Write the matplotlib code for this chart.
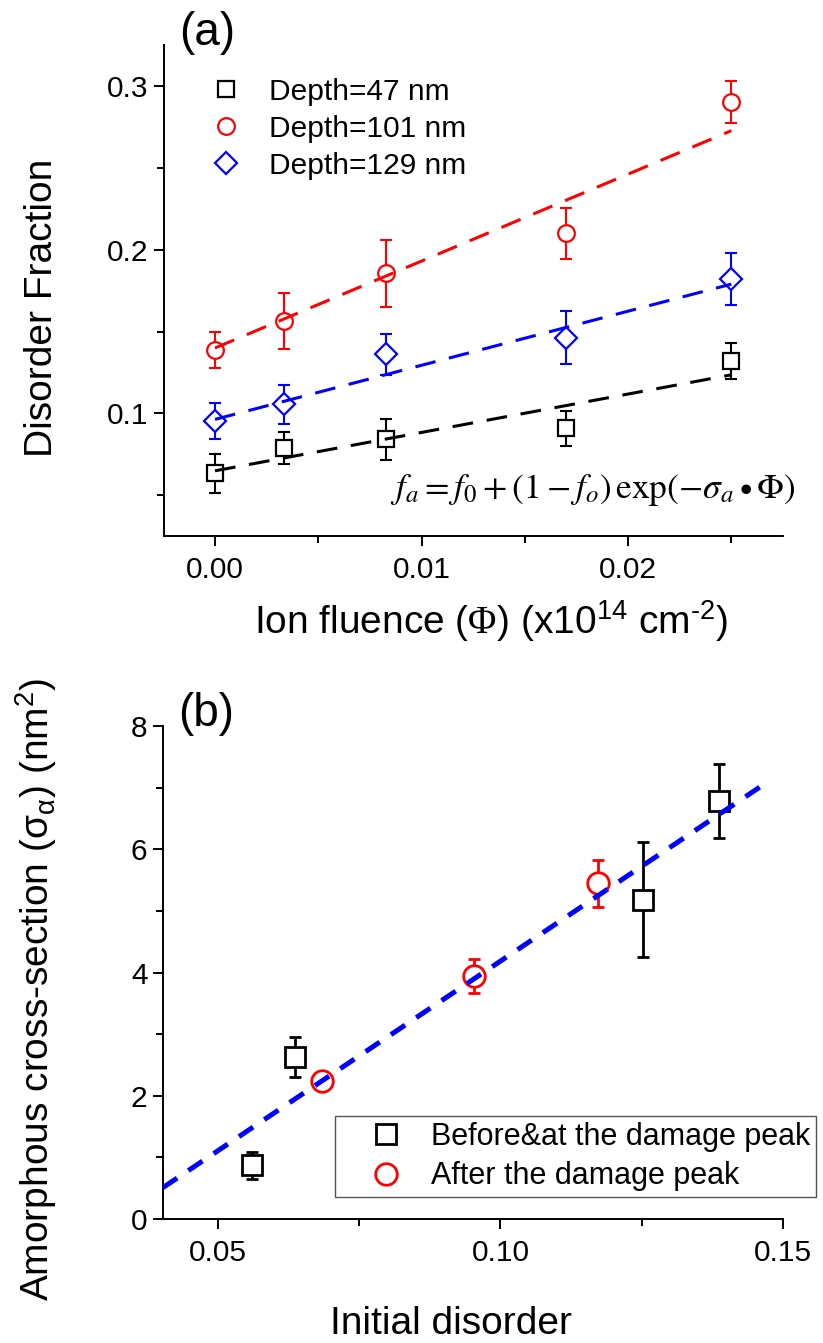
import matplotlib
matplotlib.use("Agg")
import matplotlib.pyplot as plt
from matplotlib.ticker import MultipleLocator, FormatStrFormatter

plt.rcParams["font.family"] = ["Liberation Sans", "DejaVu Sans"]
plt.rcParams["mathtext.fontset"] = "custom"
plt.rcParams["mathtext.rm"] = "Liberation Sans"
plt.rcParams["mathtext.it"] = "Liberation Sans:italic"
plt.rcParams["mathtext.cal"] = "Liberation Serif"

# (a) disorder fraction vs fluence at three depths
fluence = [0.0, 0.00333, 0.0083, 0.0170, 0.0250]
df_47 = [0.0634, 0.0789, 0.0843, 0.0909, 0.132]
err_47 = [0.012, 0.010, 0.0125, 0.0105, 0.011]
df_101 = [0.139, 0.1565, 0.1856, 0.210, 0.290]
err_101 = [0.011, 0.017, 0.0205, 0.0155, 0.0128]
df_129 = [0.0956, 0.1055, 0.1361, 0.1464, 0.182]
err_129 = [0.011, 0.012, 0.0127, 0.016, 0.016]

# fitted curves, end points
fit_x = [0.0, 0.025]
fit_47 = [0.065, 0.1236]
fit_101 = [0.140, 0.2727]
fit_129 = [0.0964, 0.179]

# (b) cross-section vs initial disorder
before_x = [0.0560, 0.0636, 0.1252, 0.1387]
before_y = [0.87, 2.63, 5.18, 6.79]
before_err = [0.22, 0.32, 0.93, 0.60]
after_x = [0.0684, 0.0953, 0.1173]
after_y = [2.24, 3.94, 5.45]
after_err = [0.08, 0.28, 0.38]
lin_x = [0.0403, 0.1477]
lin_y = [0.51, 7.12]

W, H = 823, 1343
fig = plt.figure(figsize=(W / 100, H / 100), dpi=100)
ax1 = fig.add_axes([164 / W, (H - 536) / H, 619 / W, 491 / H])
ax2 = fig.add_axes([163 / W, (H - 1219) / H, 620 / W, 493 / H])

TICK_FS = 21.5
LABEL_FS = 28


def style_axes(ax):
    for side in ("top", "right"):
        ax.spines[side].set_visible(False)
    for side in ("left", "bottom"):
        ax.spines[side].set_linewidth(1.4)
    ax.tick_params(which="major", direction="out", length=7.2, width=1.4,
                   labelsize=TICK_FS)
    ax.tick_params(which="minor", direction="out", length=4.8, width=1.4)
    ax.tick_params(axis="x", which="major", pad=7)
    ax.tick_params(axis="y", which="major", pad=4)


series = [
    (df_47, err_47, fit_47, "black", "s", 11, "Depth=47 nm"),
    (df_101, err_101, fit_101, "red", "o", 12, "Depth=101 nm"),
    (df_129, err_129, fit_129, "blue", "D", 11.5, "Depth=129 nm"),
]
for y, e, fit, c, m, ms, lab in series:
    ax1.errorbar(fluence, y, yerr=e, fmt="none", ecolor=c, elinewidth=1.5,
                 capsize=4, capthick=1.5, zorder=2)
    ax1.plot(fluence, y, m, ms=ms, mfc="white", mec=c, mew=1.6,
             ls="none", label=lab, zorder=3)
    ax1.plot(fit_x, fit, color=c, lw=2.2, dashes=(6.8, 4.5), zorder=4)

style_axes(ax1)
ax1.set_xlim(-0.00247, 0.0275)
ax1.set_ylim(0.0252, 0.325)
ax1.xaxis.set_major_locator(MultipleLocator(0.01))
ax1.xaxis.set_minor_locator(MultipleLocator(0.005))
ax1.xaxis.set_major_formatter(FormatStrFormatter("%.2f"))
ax1.yaxis.set_major_locator(MultipleLocator(0.1))
ax1.yaxis.set_minor_locator(MultipleLocator(0.05))
ax1.yaxis.set_major_formatter(FormatStrFormatter("%.1f"))

ax1.set_xlabel(r"Ion fluence ($\mathcal{\Phi}$) (x10$^{14}$ cm$^{\text{-2}}$)",
               fontsize=LABEL_FS)
ax1.set_ylabel("Disorder Fraction", fontsize=LABEL_FS)
ax1.xaxis.set_label_coords(0.528, -0.126)
ax1.yaxis.set_label_coords(-0.168, 0.464)

ax1.legend(loc="upper left", bbox_to_anchor=(0.071, 0.933), frameon=False,
           fontsize=TICK_FS, handlelength=1.2, handletextpad=0.85,
           labelspacing=0.3, borderpad=0, borderaxespad=0)

ax1.text(1.021, 0.094, r"$f_a = f_0 + (1 - f_o)\,\exp(-\sigma_a \bullet \Phi)$",
         transform=ax1.transAxes, ha="right", va="center", fontsize=25.5,
         math_fontfamily="stix")

# (b)
ax2.errorbar(before_x, before_y, yerr=before_err, fmt="none", ecolor="black",
             elinewidth=2, capsize=4.5, capthick=2, zorder=2)
ax2.errorbar(after_x, after_y, yerr=after_err, fmt="none", ecolor="red",
             elinewidth=2, capsize=4.5, capthick=2, zorder=2)
ax2.plot(before_x, before_y, "s", ms=14.5, mfc="white", mec="black", mew=2,
         ls="none", label="Before&at the damage peak", zorder=3)
ax2.plot(after_x, after_y, "o", ms=15.5, mfc="white", mec="red", mew=2,
         ls="none", label="After the damage peak", zorder=3)
ax2.plot(lin_x, lin_y, color="blue", lw=3.6, dashes=(3.4, 2.7), zorder=4)

style_axes(ax2)
ax2.set_xlim(0.0403, 0.15)
ax2.set_ylim(0, 8)
ax2.xaxis.set_major_locator(MultipleLocator(0.05))
ax2.xaxis.set_minor_locator(MultipleLocator(0.025))
ax2.xaxis.set_major_formatter(FormatStrFormatter("%.2f"))
ax2.yaxis.set_major_locator(MultipleLocator(2))
ax2.yaxis.set_minor_locator(MultipleLocator(1))

ax2.set_xlabel("Initial disorder", fontsize=LABEL_FS)
ax2.set_ylabel(r"Amorphous cross-section ($\mathrm{\sigma_{\alpha}}$) (nm$^{2}$)",
               fontsize=LABEL_FS)
ax2.xaxis.set_label_coords(0.465, -0.176)
ax2.yaxis.set_label_coords(-0.168, 0.465)

leg = ax2.legend(loc="upper left", bbox_to_anchor=(0.277, 0.209),
                 fontsize=22, handlelength=2.95, handletextpad=0.0,
                 labelspacing=0.3, borderpad=0.2, borderaxespad=0,
                 fancybox=False, framealpha=1)
leg.get_frame().set_edgecolor("#555555")
leg.get_frame().set_linewidth(1.0)

fig.text(207 / W, 1 - 33 / H, "(a)", fontsize=33, ha="center", va="center")
fig.text(206 / W, 1 - 714 / H, "(b)", fontsize=33, ha="center", va="center")

fig.savefig("out.png", dpi=100)
